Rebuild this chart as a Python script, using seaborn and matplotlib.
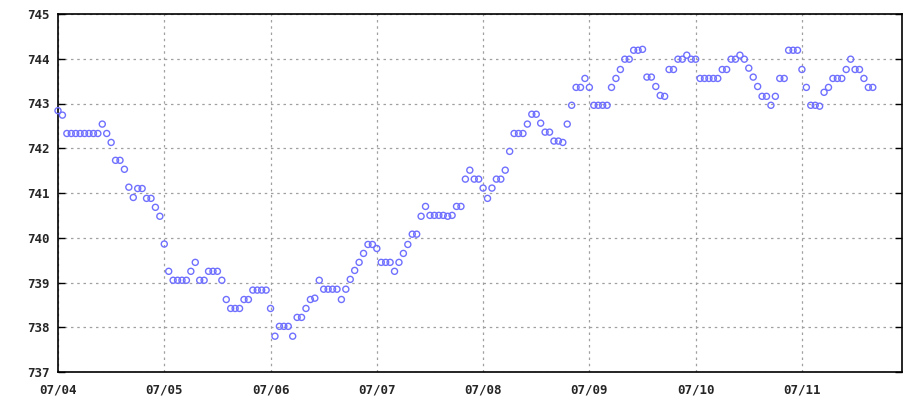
import pandas as pd
import numpy as np
import matplotlib
matplotlib.use('Agg')
import matplotlib.pyplot as plt
import matplotlib.dates as mdates
import seaborn as sns

# hourly readings, starting 07/04 00:00
day_0704 = [742.84, 742.74, 742.33, 742.33, 742.33, 742.33, 742.33, 742.33, 742.33, 742.33,
            742.54, 742.33, 742.13, 741.73, 741.73, 741.53, 741.13, 740.90, 741.10, 741.10,
            740.88, 740.88, 740.68, 740.48]
day_0705 = [739.86, 739.25, 739.05, 739.05, 739.05, 739.05, 739.25, 739.45, 739.05, 739.05,
            739.25, 739.25, 739.25, 739.05, 738.62, 738.42, 738.42, 738.42, 738.62, 738.62,
            738.83, 738.83, 738.83, 738.83]
day_0706 = [738.42, 737.80, 738.02, 738.02, 738.02, 737.80, 738.22, 738.22, 738.42, 738.62,
            738.65, 739.05, 738.85, 738.85, 738.85, 738.85, 738.62, 738.85, 739.07, 739.27,
            739.45, 739.65, 739.85, 739.85]
day_0707 = [739.76, 739.45, 739.45, 739.45, 739.25, 739.45, 739.65, 739.85, 740.08, 740.08,
            740.48, 740.70, 740.50, 740.50, 740.50, 740.50, 740.48, 740.50, 740.70, 740.70,
            741.31, 741.51, 741.31, 741.31]
day_0708 = [741.11, 740.88, 741.11, 741.31, 741.31, 741.51, 741.93, 742.33, 742.33, 742.33,
            742.54, 742.76, 742.76, 742.56, 742.36, 742.36, 742.16, 742.16, 742.13, 742.54,
            742.96, 743.36, 743.36, 743.56]
day_0709 = [743.36, 742.96, 742.96, 742.96, 742.96, 743.36, 743.56, 743.76, 743.99, 743.99,
            744.19, 744.19, 744.21, 743.59, 743.59, 743.38, 743.18, 743.16, 743.76, 743.76,
            743.99, 743.99, 744.08, 743.99]
day_0710 = [743.99, 743.56, 743.56, 743.56, 743.56, 743.56, 743.76, 743.76, 743.99, 743.99,
            744.08, 743.99, 743.79, 743.59, 743.38, 743.16, 743.16, 742.96, 743.16, 743.56,
            743.56, 744.19, 744.19, 744.19]
day_0711 = [743.76, 743.36, 742.96, 742.96, 742.94, 743.25, 743.36, 743.56, 743.56, 743.56,
            743.76, 743.99, 743.76, 743.76, 743.56, 743.36, 743.36]

pressure = day_0704 + day_0705 + day_0706 + day_0707 + day_0708 + day_0709 + day_0710 + day_0711
times = pd.date_range('2024-07-04 00:00', periods=len(pressure), freq='h')
df = pd.DataFrame({'time': times, 'pressure': pressure})

sns.set_style('white')
plt.rcParams['font.family'] = ['DejaVu Sans Mono', 'DejaVu Sans']

fig = plt.figure(figsize=(9.2, 4.0), dpi=100)
ax = fig.add_axes([58 / 920, 28 / 400, 844 / 920, 358 / 400])

sns.scatterplot(data=df, x='time', y='pressure', ax=ax, marker='o', s=19,
                facecolors='none', edgecolors='#7070ff', linewidth=1.0, zorder=3,
                clip_on=False)

start = pd.Timestamp('2024-07-04 00:00')
ax.set_xlim(start, start + pd.Timedelta(hours=190.6))
ax.set_ylim(737, 745)

ax.xaxis.set_major_locator(mdates.DayLocator())
ax.xaxis.set_major_formatter(mdates.DateFormatter('%m/%d'))
ax.xaxis.set_minor_locator(mdates.HourLocator(byhour=[6, 12, 18]))
ax.set_yticks(range(737, 746))

ax.grid(True, which='major', color='#a0a0a0', linestyle=(0, (2, 3)), linewidth=0.9, zorder=0)
ax.set_axisbelow(True)

for side in ['left', 'bottom', 'right', 'top']:
    ax.spines[side].set_visible(True)
    ax.spines[side].set_color('black')
    ax.spines[side].set_linewidth(1.2)

ax.tick_params(axis='x', which='major', length=0, pad=8)
ax.tick_params(axis='x', which='minor', direction='in', length=3, color='black', width=1)
ax.tick_params(axis='y', which='major', direction='in', length=5, color='black', width=1,
               right=True, left=True, pad=6)

for lbl in ax.get_xticklabels() + ax.get_yticklabels():
    lbl.set_fontsize(9)
    lbl.set_fontweight('bold')

ax.set_xlabel('')
ax.set_ylabel('')

plt.savefig('out.png', dpi=100)
